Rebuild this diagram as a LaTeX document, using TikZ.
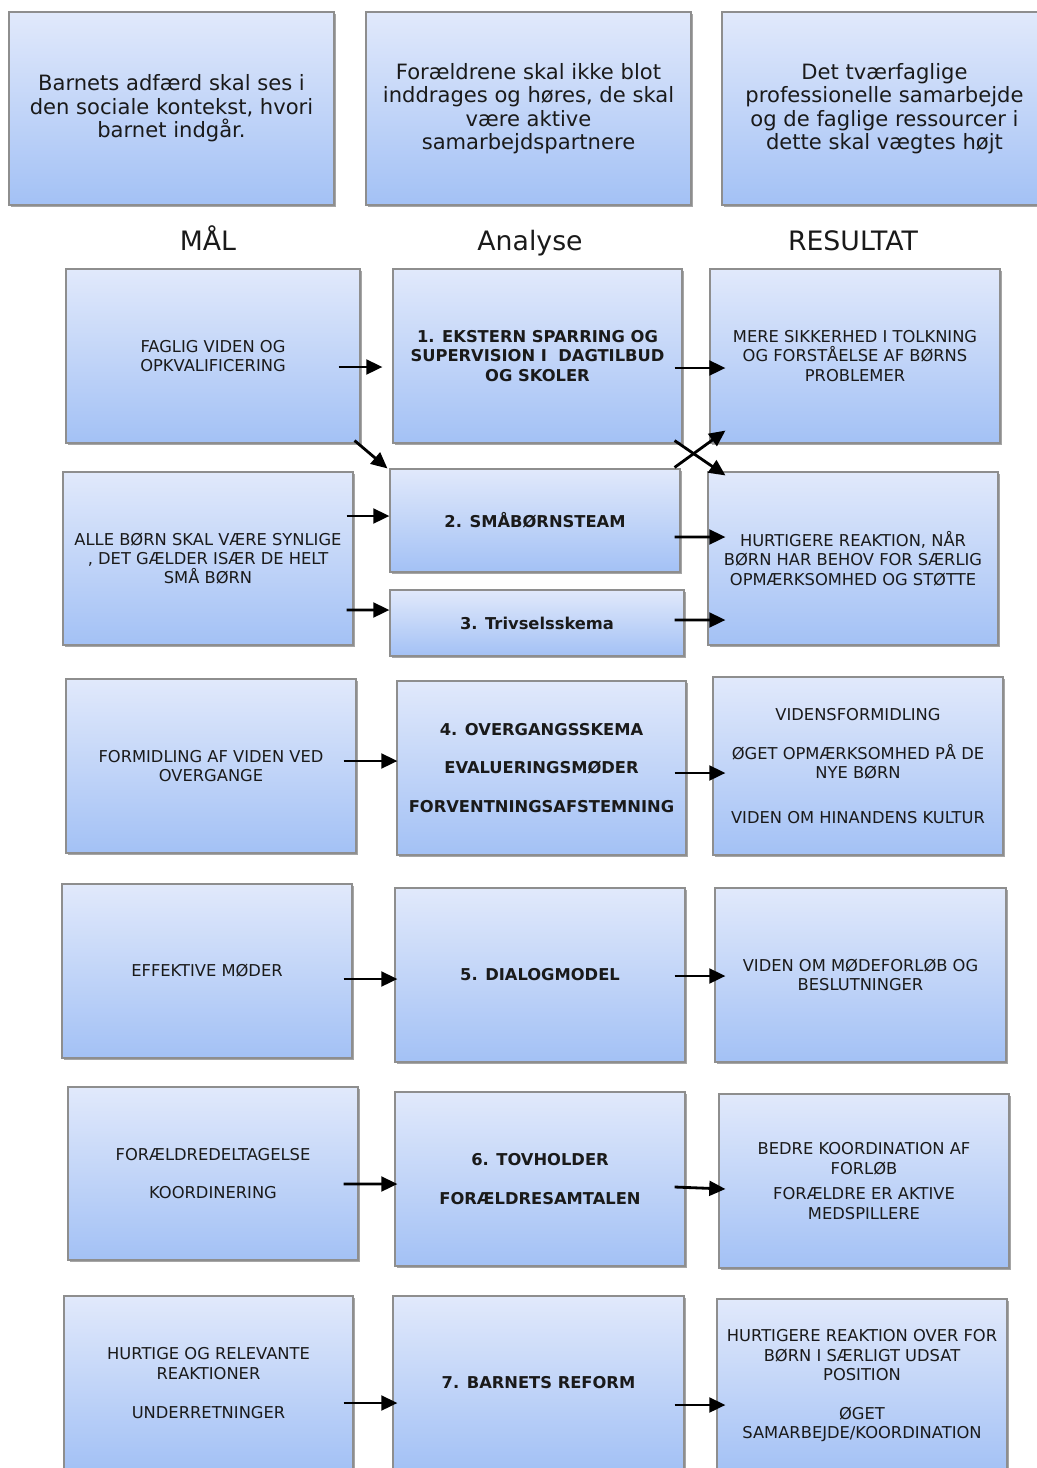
\documentclass[tikz,border=0pt]{standalone}
\usepackage{fontspec}
\setmainfont{DejaVu Sans}
\usepackage{tikz}
\usetikzlibrary{arrows.meta,calc,shadows}
\definecolor{BoxTop}{HTML}{E1E9FB}
\definecolor{BoxBottom}{HTML}{A3C1F5}
\definecolor{BoxLine}{HTML}{8E8E8E}
\definecolor{TextDark}{HTML}{1A1A1A}

\begin{document}
\begin{tikzpicture}[
    x=0.025cm,y=-0.025cm,
    box/.style={draw=BoxLine,line width=0.8pt,top color=BoxTop,bottom color=BoxBottom,
      drop shadow={shadow xshift=1.2pt,shadow yshift=-1.6pt,opacity=0.35,fill=black},
      minimum width=290*0.025cm,minimum height=174*0.025cm,align=center,
      text=TextDark,font=\fontsize{11.6}{13.8}\selectfont,inner sep=2pt},
    sz/.style 2 args={minimum width=#1*0.025cm,minimum height=#2*0.025cm},
    topbox/.style={box,sz={325}{193},font=\fontsize{15}{16.7}\selectfont},
    tiltagbox/.style={box,font=\fontsize{11.6}{13.8}\selectfont\bfseries},
    head/.style={anchor=base,font=\fontsize{19}{22}\selectfont,text=TextDark},
    arr/.style={-{Triangle[length=11.5pt,width=10.5pt]},line width=2pt,draw=black}
  ]
  \useasboundingbox (0,0) rectangle (1037,1468);
  \clip (0,0) rectangle (1037,1468);

  % principles
  \node[topbox] (barn) at (171.5,108.5) {Barnets adfærd skal ses i\\den sociale kontekst, hvori\\barnet indgår.};
  \node[topbox] (foraeldre) at (528.5,108.5) {Forældrene skal ikke blot\\inddrages og høres, de skal\\være aktive\\samarbejdspartnere};
  \node[topbox] (tvaer) at (884.5,108.5) {Det tværfaglige\\professionelle samarbejde\\og de faglige ressourcer i\\dette skal vægtes højt};

  \node[head] (maal) at (208,250) {MÅL};
  \node[head] (analyse) at (530,250) {Analyse};
  \node[head] (resultat) at (853,250) {RESULTAT};

  % row 1
  \node[box,sz={294}{174}] (maal1) at (213,356) {FAGLIG VIDEN OG\\OPKVALIFICERING};
  \node[tiltagbox,sz={289}{174}] (tiltag1) at (537.5,356) {1. EKSTERN SPARRING OG\\SUPERVISION I\ \ DAGTILBUD\\OG SKOLER};
  \node[box] (res1) at (855,356) {MERE SIKKERHED I TOLKNING\\OG FORSTÅELSE AF BØRNS\\PROBLEMER};

  % rows 2 and 3
  \node[box,sz={290}{173}] (maal2) at (208,558.5) {ALLE BØRN SKAL VÆRE SYNLIGE\\, DET GÆLDER ISÆR DE HELT\\SMÅ BØRN};
  \node[tiltagbox,sz={290}{103}] (tiltag2) at (535,520.5) {2. SMÅBØRNSTEAM};
  \node[tiltagbox,sz={294}{66}] (tiltag3) at (537,623) {3. Trivselsskema};
  \node[box,sz={290}{173}] (res2) at (853,558.5) {HURTIGERE REAKTION, NÅR\\BØRN HAR BEHOV FOR SÆRLIG\\OPMÆRKSOMHED OG STØTTE};

  % row 4
  \node[box] (maal4) at (211,766) {FORMIDLING AF VIDEN VED\\OVERGANGE};
  \node[tiltagbox,sz={289}{174}] (tiltag4) at (541.5,768) {4. OVERGANGSSKEMA\\[13.8pt]EVALUERINGSMØDER\\[13.8pt]FORVENTNINGSAFSTEMNING};
  \node[box,sz={290}{178}] (res4) at (858,766) {VIDENSFORMIDLING\\[13.8pt]ØGET OPMÆRKSOMHED PÅ DE\\NYE BØRN\\[18pt]VIDEN OM HINANDENS KULTUR};

  % row 5
  \node[box] (maal5) at (207,971) {EFFEKTIVE MØDER};
  \node[tiltagbox] (tiltag5) at (540,975) {5. DIALOGMODEL};
  \node[box,sz={291}{174}] (res5) at (860.5,975) {VIDEN OM MØDEFORLØB OG\\BESLUTNINGER};

  % row 6
  \node[box,sz={290}{173}] (maal6) at (213,1173.5) {FORÆLDREDELTAGELSE\\[13.8pt]KOORDINERING};
  \node[tiltagbox] (tiltag6) at (540,1179) {6. TOVHOLDER\\[13.8pt]FORÆLDRESAMTALEN};
  \node[box] (res6) at (864,1181) {BEDRE KOORDINATION AF\\FORLØB\\[4.6pt]FORÆLDRE ER AKTIVE\\MEDSPILLERE};

  % row 7
  \node[box,sz={289}{174}] (maal7) at (208.5,1383) {HURTIGE OG RELEVANTE\\REAKTIONER\\[13.8pt]UNDERRETNINGER};
  \node[tiltagbox,sz={291}{174}] (tiltag7) at (538.5,1383) {7. BARNETS REFORM};
  \node[box] (res7) at (862,1386) {HURTIGERE REAKTION OVER FOR\\BØRN I SÆRLIGT UDSAT\\POSITION\\[13.8pt]ØGET\\SAMARBEJDE/KOORDINATION};

  % connectors
  \draw[arr] ($(maal1.east)+(-22,11)$) -- ($(tiltag1.west)+(-10,11)$);
  \draw[arr] ($(tiltag1.east)+(-8,12)$) -- ($(res1.west)+(16,12)$);
  \draw[arr] ($(maal1.south east)+(-6,-3)$) -- ($(tiltag2.north west)+(-2,0)$);
  \draw[arr] ($(tiltag2.north east)+(-6,-1)$) -- ($(res1.south west)+(16,-13)$);
  \draw[arr] ($(tiltag1.south east)+(-8,-3)$) -- ($(res2.north west)+(18,4)$);
  \draw[arr] ($(maal2.east)+(-7,-42.5)$) -- ($(tiltag2.west)+(0,-4.5)$);
  \draw[arr] ($(tiltag2.east)+(-6,16.5)$) -- ($(res2.west)+(18,-21.5)$);
  \draw[arr] ($(maal2.east)+(-7,51.5)$) -- ($(tiltag3.west)+(0,-13)$);
  \draw[arr] ($(tiltag3.east)+(-10,-3)$) -- ($(res2.west)+(18,61.5)$);
  \draw[arr] ($(maal4.east)+(-13,-5)$) -- ($(tiltag4.west)+(1,-7)$);
  \draw[arr] ($(tiltag4.east)+(-12,5)$) -- ($(res4.west)+(13,7)$);
  \draw[arr] ($(maal5.east)+(-9,8)$) -- ($(tiltag5.west)+(3,4)$);
  \draw[arr] ($(tiltag5.east)+(-11,1)$) -- ($(res5.west)+(11,1)$);
  \draw[arr] ($(maal6.east)+(-15,10.5)$) -- ($(tiltag6.west)+(3,5)$);
  \draw[arr] ($(tiltag6.east)+(-11,8)$) -- ($(res6.west)+(7,8)$);
  \draw[arr] ($(maal7.east)+(-10,20)$) -- ($(tiltag7.west)+(5,20)$);
  \draw[arr] ($(tiltag7.east)+(-10,22)$) -- ($(res7.west)+(9,19)$);
\end{tikzpicture}
\end{document}
